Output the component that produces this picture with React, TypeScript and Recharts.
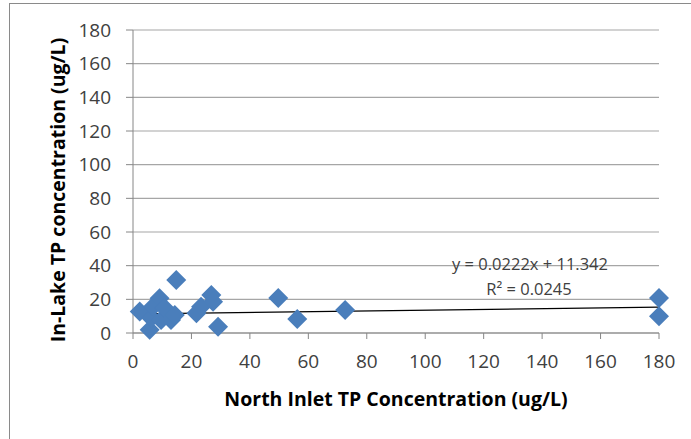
import { ScatterChart, Scatter, XAxis, YAxis, CartesianGrid, ReferenceLine } from 'recharts';

// North Inlet TP vs In-Lake TP (ug/L)
const inletTP = [2.3, 5.7, 6.2, 6.8, 9.1, 9.6, 10.8, 13, 14.3, 14.8, 21.7, 23.3, 26.8, 27.4, 29.1, 49.7, 56.2, 72.6, 180, 180];
const lakeTP = [12.7, 2, 8.9, 15.6, 20.6, 7.7, 14.8, 7.7, 10.7, 31.5, 11.7, 15.6, 22.6, 18.6, 3.7, 20.8, 8.3, 13.7, 20.8, 10];
const xTicks = [0, 20, 40, 60, 80, 100, 120, 140, 160, 180];
const yTicks = [0, 20, 40, 60, 80, 100, 120, 140, 160, 180];

// Excel linear trendline
const slope = 0.0222;
const intercept = 11.342;

const points = inletTP.map((x, i) => ({ x, y: lakeTP[i] }));
const xMin = Math.min(...inletTP);
const xMax = Math.max(...inletTP);

const FONT = '"Open Sans", sans-serif';

const Diamond = (props: any) => {
  const { cx, cy } = props;
  const r = 10;
  return (
    <polygon
      points={`${cx},${cy - r} ${cx + r},${cy} ${cx},${cy + r} ${cx - r},${cy}`}
      fill="#4a7ebb"
    />
  );
};

export default function App() {
  return (
    <div style={{ position: 'absolute', left: 0, top: 0, width: 691, height: 439, background: '#fff', fontFamily: FONT, overflow: 'hidden' }}>
      <div
        style={{
          position: 'absolute',
          left: 9,
          top: 3,
          width: 720,
          height: 470,
          border: '1.5px solid #8a8a8a',
          boxSizing: 'border-box',
        }}
      />
      <div style={{ position: 'absolute', left: 0, top: 0 }}>
        <ScatterChart width={691} height={439} margin={{ top: 30, right: 32, bottom: 76, left: 0 }}>
          <CartesianGrid horizontal vertical={false} stroke="#a6a6a6" strokeWidth={1.2} />
          <XAxis
            type="number"
            dataKey="x"
            domain={[0, 180]}
            ticks={xTicks}
            interval={0}
            height={30}
            stroke="#868686"
            tickSize={6}
            tickMargin={16}
            tick={{ fill: '#404040', fontSize: 19, fontFamily: FONT }}
            label={{
              value: 'North Inlet TP Concentration (ug/L)',
              position: 'insideBottom',
              offset: -43,
              style: { fill: '#000', fontSize: 19.5, fontWeight: 700, fontFamily: FONT },
            }}
          />
          <YAxis
            type="number"
            dataKey="y"
            domain={[0, 180]}
            ticks={yTicks}
            interval={0}
            width={133}
            stroke="#868686"
            tickSize={7}
            tickMargin={15}
            tick={{ fill: '#404040', fontSize: 19, fontFamily: FONT }}
          />
          <ReferenceLine
            segment={[
              { x: xMin, y: slope * xMin + intercept },
              { x: xMax, y: slope * xMax + intercept },
            ]}
            stroke="#000"
            strokeWidth={1.2}
            ifOverflow="visible"
          />
          <Scatter data={points} shape={<Diamond />} isAnimationActive={false} />
          <text
            x={57}
            y={190}
            transform="rotate(-90, 57, 190)"
            textAnchor="middle"
            dominantBaseline="central"
            fontSize={19.5}
            fontWeight={700}
            fontFamily={FONT}
            fill="#000"
          >
            In-Lake TP concentration (ug/L)
          </text>
          <text x={530} y={270} textAnchor="middle" fontSize={16.5} fontFamily={FONT} fill="#404040">
            y = 0.0222x + 11.342
          </text>
          <text x={529} y={295} textAnchor="middle" fontSize={16.5} fontFamily={FONT} fill="#404040">
            R² = 0.0245
          </text>
        </ScatterChart>
      </div>
    </div>
  );
}
